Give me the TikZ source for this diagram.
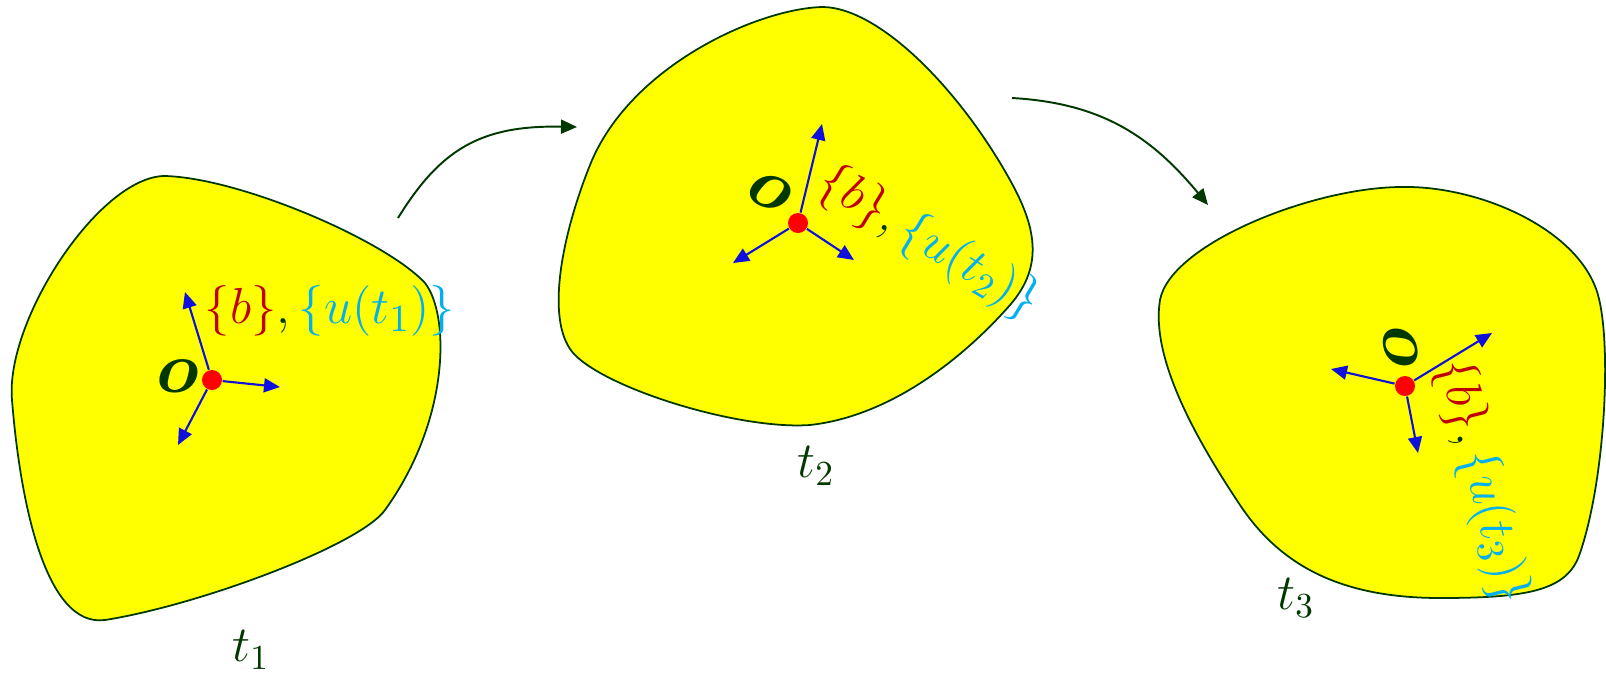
\documentclass[tikz,border=0pt]{standalone}
\usepackage{amsmath}
\usetikzlibrary{arrows.meta}
\definecolor{dkgreen}{RGB}{0,56,0}
\definecolor{myyellow}{RGB}{255,255,0}
\definecolor{myblue}{RGB}{16,16,220}
\definecolor{myred}{RGB}{192,0,0}
\definecolor{mycyan}{RGB}{0,176,240}
\tikzset{
  body/.style={draw=dkgreen, line width=0.5pt, fill=myyellow},
  vec/.style={draw=myblue, line width=0.6pt, -{Triangle[length=1.6mm,width=1.4mm]}},
  motion/.style={draw=dkgreen, line width=0.55pt, -{Triangle[length=1.6mm,width=1.4mm]}},
  origin/.style={circle, fill=red, inner sep=0pt, minimum size=0.2cm},
  lbl/.style={inner sep=0pt, font=\fontsize{15}{17}\selectfont},
  olbl/.style={inner sep=0pt, text=dkgreen, font=\fontsize{22}{26}\selectfont},
  tlbl/.style={inner sep=0pt, text=dkgreen, font=\fontsize{14}{16}\selectfont}
}
\newcommand{\frm}[1]{$\color{myred}\{b\}\color{dkgreen},\color{mycyan}\{u(t_{#1})\}$}
\begin{document}
\begin{tikzpicture}[x=0.01cm,y=-0.01cm]
\useasboundingbox (0,0) rectangle (1606,672);
% bodies
\draw[body] (165,176) .. controls (240,178) and (385,240) .. (425,283)
  .. controls (450,315) and (450,420) .. (385,510)
  .. controls (360,545) and (200,605) .. (105,620)
  .. controls (45,628) and (20,500) .. (12,400)
  .. controls (5,320) and (100,176) .. (165,176) -- cycle;
\draw[body] (823,7) .. controls (880,8) and (960,90) .. (1010,180)
  .. controls (1035,225) and (1045,265) .. (1010,305)
  .. controls (975,345) and (900,415) .. (810,425)
  .. controls (740,430) and (610,390) .. (575,355)
  .. controls (545,325) and (560,240) .. (590,165)
  .. controls (630,65) and (760,8) .. (823,7) -- cycle;
\draw[body] (1400,187) .. controls (1480,185) and (1580,230) .. (1598,295)
  .. controls (1612,345) and (1605,480) .. (1580,553)
  .. controls (1568,590) and (1530,598) .. (1440,598)
  .. controls (1340,598) and (1280,565) .. (1240,505)
  .. controls (1200,445) and (1150,360) .. (1160,300)
  .. controls (1170,245) and (1310,188) .. (1400,187) -- cycle;

% frame 1
\node[origin] (o1) at (212,380) {};
\coordinate (a1) at (185,292);
\coordinate (b1) at (280,387);
\coordinate (c1) at (178,445);
\draw[vec] (o1) -- (a1);
\draw[vec] (o1) -- (b1);
\draw[vec] (o1) -- (c1);
\node[olbl] (n1) at (178,376) {$\boldsymbol{o}$};
\node[lbl] (f1) at (330,311) {\frm{1}};
\node[tlbl] (t1) at (251,650) {$t_1$};

% frame 2
\node[origin] (o2) at (798,223) {};
\coordinate (a2) at (822,124);
\coordinate (b2) at (733,263);
\coordinate (c2) at (854,260);
\draw[vec] (o2) -- (a2);
\draw[vec] (o2) -- (b2);
\draw[vec] (o2) -- (c2);
\node[olbl, rotate=-25] (n2) at (770,192) {$\boldsymbol{o}$};
\node[lbl, rotate=-31, font=\fontsize{14}{16}\selectfont] (f2) at (929,243) {\frm{2}};
\node[tlbl] (t2) at (816,466) {$t_2$};

% frame 3
\node[origin] (o3) at (1405,386) {};
\coordinate (a3) at (1492,333);
\coordinate (b3) at (1331,369);
\coordinate (c3) at (1418,453);
\draw[vec] (o3) -- (a3);
\draw[vec] (o3) -- (b3);
\draw[vec] (o3) -- (c3);
\node[olbl, rotate=-82] (n3) at (1401,346) {$\boldsymbol{o}$};
\node[lbl, rotate=-76] (f3) at (1482,482) {\frm{3}};
\node[tlbl] (t3) at (1296,598) {$t_3$};

% motion arrows
\coordinate (m1s) at (398,218);
\coordinate (m1e) at (577,127);
\coordinate (m2s) at (1012,98);
\coordinate (m2e) at (1208,205);
\draw[motion] (m1s) .. controls (440,150) and (480,125) .. (m1e);
\draw[motion] (m2s) .. controls (1100,103) and (1150,135) .. (m2e);
\end{tikzpicture}
\end{document}
